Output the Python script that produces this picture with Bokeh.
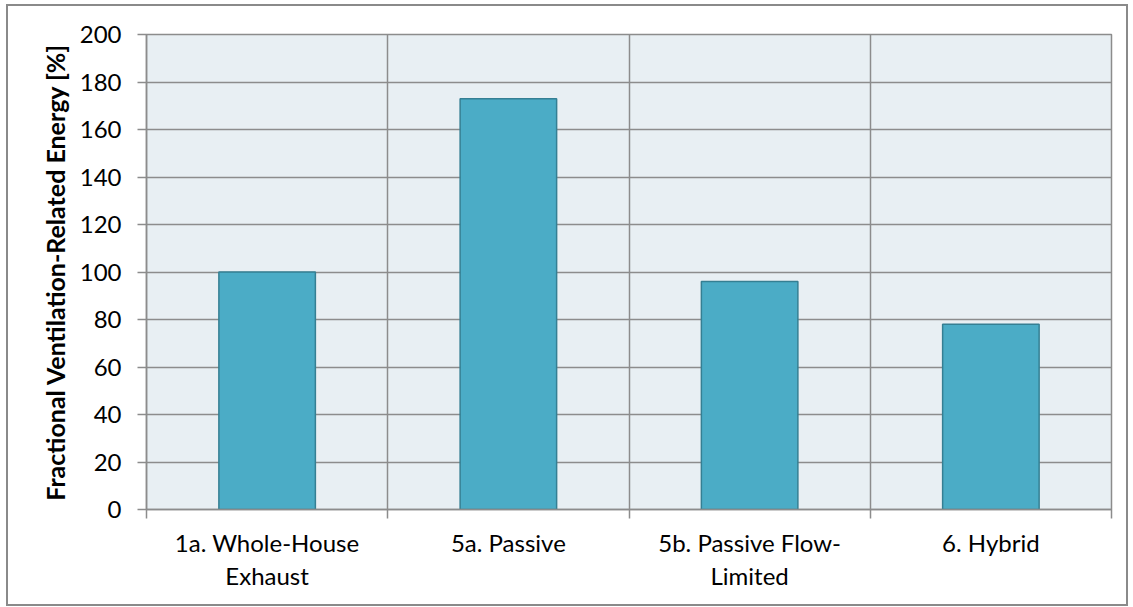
from bokeh.plotting import figure
from bokeh.models import FixedTicker, Range1d
from bokeh.embed import file_html
from bokeh.resources import INLINE

categories = ["1a. Whole-House\nExhaust", "5a. Passive", "5b. Passive Flow-\nLimited", "6. Hybrid"]
values = [100, 173, 96, 78]
y_ticks = [0, 20, 40, 60, 80, 100, 120, 140, 160, 180, 200]
y_label = "Fractional Ventilation-Related Energy [%]"

FONT = "Lato"
GRID = "#8c8c8c"

xs = list(range(len(categories)))
bounds = [i - 0.5 for i in range(len(categories) + 1)]

p = figure(width=1122, height=602, x_range=Range1d(-0.5, len(categories) - 0.5),
           y_range=Range1d(0, 200), output_backend="svg", toolbar_location=None,
           min_border_left=138, min_border_top=28, min_border_right=19, min_border_bottom=99)
p.styles = {"border": "2px solid #8a8a8a", "margin-left": "6px", "margin-top": "4px"}

p.background_fill_color = "#E8EFF3"
p.border_fill_color = "white"
p.outline_line_color = GRID
p.outline_line_width = 1.5

p.vbar(x=xs, top=values, width=0.4, fill_color="#4BACC6", line_color="#357F93", line_width=1.5)

# x axis
p.xaxis.ticker = FixedTicker(ticks=xs, minor_ticks=bounds)
p.xaxis.major_label_overrides = {i: c for i, c in zip(xs, categories)}
p.xaxis.major_tick_out = 0
p.xaxis.major_tick_in = 0
p.xaxis.minor_tick_out = 9
p.xaxis.minor_tick_in = 0
p.xaxis.minor_tick_line_color = GRID
p.xaxis.minor_tick_line_width = 1.5
p.xaxis.axis_line_color = GRID
p.xaxis.axis_line_width = 1.5
p.xaxis.major_label_text_font = FONT
p.xaxis.major_label_text_font_size = "24px"
p.xaxis.major_label_text_line_height = 1.15
p.xaxis.major_label_text_color = "black"
p.xaxis.major_label_standoff = 9

p.xgrid.grid_line_color = None
p.xgrid.minor_grid_line_color = GRID
p.xgrid.minor_grid_line_width = 1.5

# y axis
p.yaxis.ticker = FixedTicker(ticks=y_ticks)
p.yaxis.minor_tick_line_color = None
p.yaxis.major_tick_out = 9
p.yaxis.major_tick_in = 0
p.yaxis.major_tick_line_color = GRID
p.yaxis.major_tick_line_width = 1.5
p.yaxis.axis_line_color = GRID
p.yaxis.axis_line_width = 1.5
p.yaxis.major_label_text_font = FONT
p.yaxis.major_label_text_font_size = "24px"
p.yaxis.major_label_text_color = "black"
p.yaxis.major_label_standoff = 16
p.yaxis.axis_label = y_label
p.yaxis.axis_label_text_font = FONT
p.yaxis.axis_label_text_font_style = "bold"
p.yaxis.axis_label_text_font_size = "25px"
p.yaxis.axis_label_text_color = "black"
p.yaxis.axis_label_standoff = 7

p.ygrid.ticker = FixedTicker(ticks=y_ticks)
p.ygrid.grid_line_color = GRID
p.ygrid.grid_line_width = 1.5

open("out.html", "w").write(file_html(p, INLINE))
